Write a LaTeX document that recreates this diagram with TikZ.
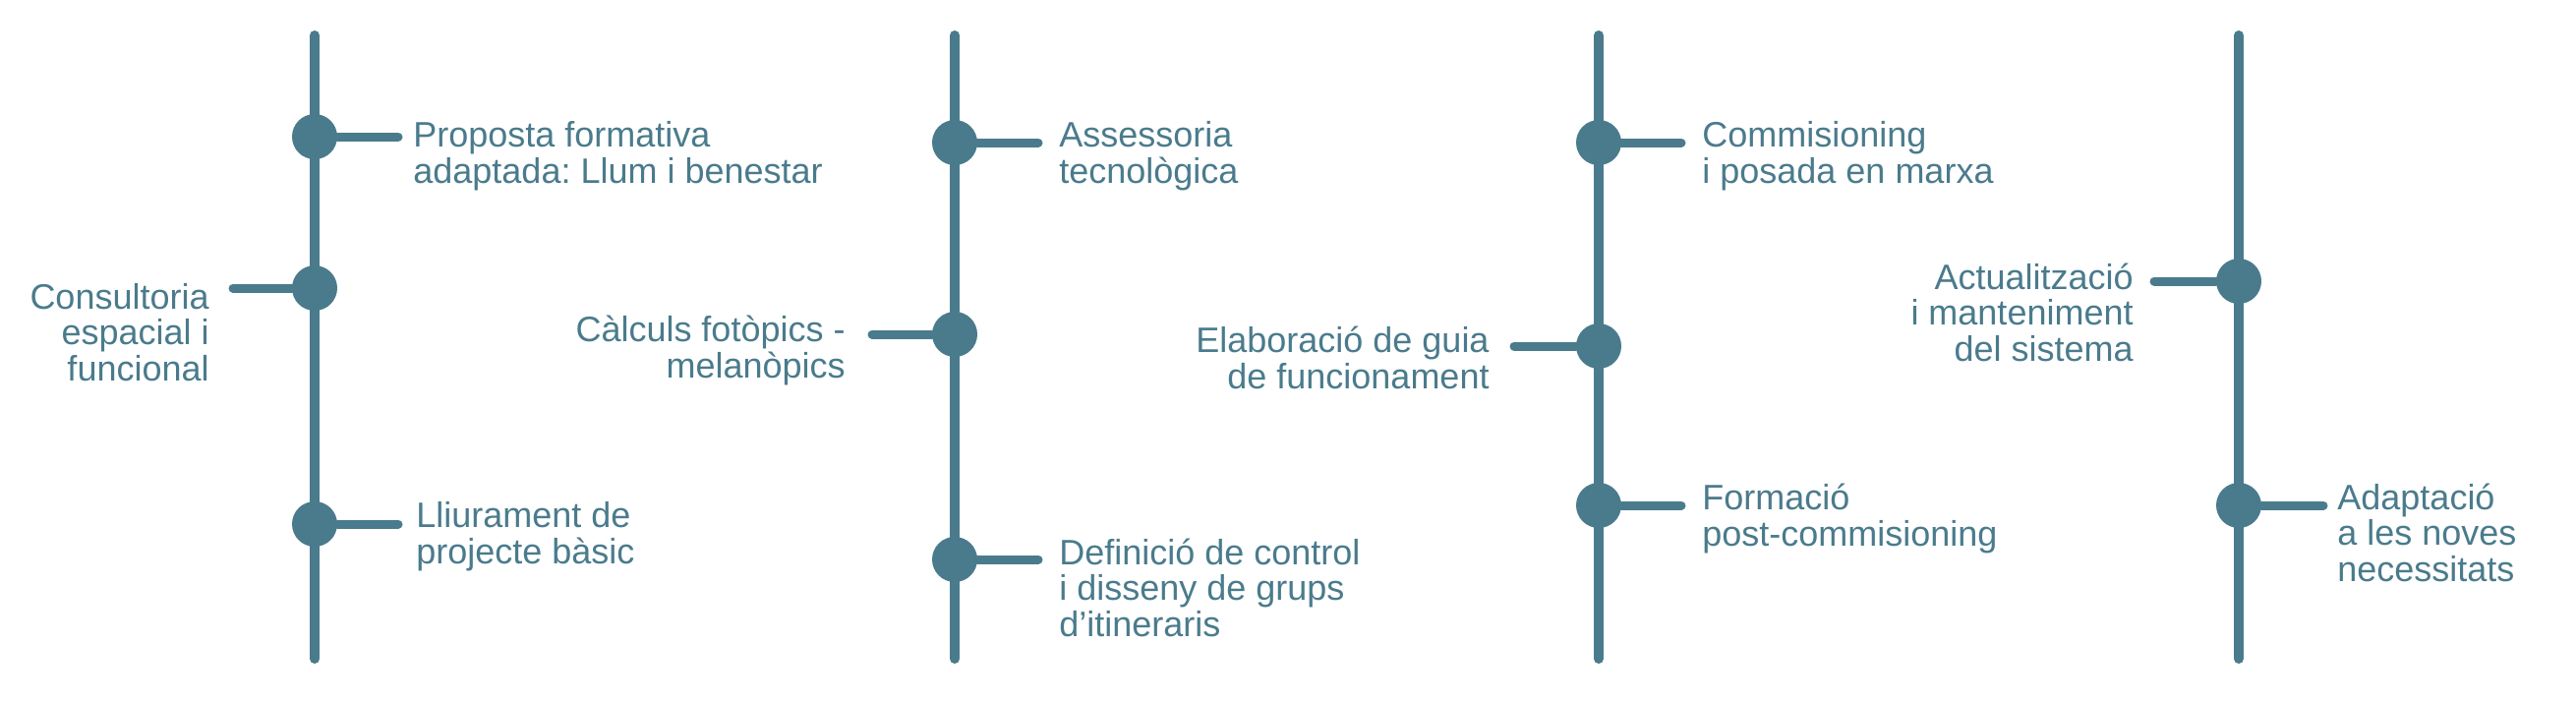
\documentclass[tikz,border=0pt]{standalone}
\usepackage{fontspec}
\setmainfont{Liberation Sans}
\usepackage{tikz}

\definecolor{tl}{HTML}{4A7B8C}
\frenchspacing

\begin{document}
\begin{tikzpicture}[x=0.5pt,y=-0.5pt,
	spine/.style={draw=tl,line width=5pt,line cap=round},
	stub/.style={draw=tl,line width=4.5pt,line cap=round},
	dot/.style={shape=circle,fill=tl,inner sep=0pt,minimum size=23pt},
	rtext/.style={anchor=base west,inner sep=0pt,align=left,text=tl,font=\fontsize{18}{18.25}\selectfont},
	ltext/.style={anchor=base east,inner sep=0pt,align=right,text=tl,font=\fontsize{18}{18.25}\selectfont}]
	\useasboundingbox (0,0) rectangle (2620,713);

	\coordinate (top1) at (320,36);   \coordinate (bot1) at (320,670);
	\coordinate (top2) at (971,36);   \coordinate (bot2) at (971,670);
	\coordinate (top3) at (1626,36);  \coordinate (bot3) at (1626,670);
	\coordinate (top4) at (2277,36);  \coordinate (bot4) at (2277,670);
	\path (top1) edge [spine] (bot1);
	\path (top2) edge [spine] (bot2);
	\path (top3) edge [spine] (bot3);
	\path (top4) edge [spine] (bot4);

	\draw (320,139) node (proposta) [dot] {};
	\draw (320,293) node (consult) [dot] {};
	\draw (320,533) node (lliura) [dot] {};
	\draw (971,145) node (assess) [dot] {};
	\draw (971,340) node (calcul) [dot] {};
	\draw (971,569) node (defin) [dot] {};
	\draw (1626,145) node (commis) [dot] {};
	\draw (1626,352) node (elabor) [dot] {};
	\draw (1626,514) node (formac) [dot] {};
	\draw (2277,286) node (actual) [dot] {};
	\draw (2277,514) node (adapta) [dot] {};

	\coordinate (proposta-e) at (405,139);
	\coordinate (consult-e) at (237,293);
	\coordinate (lliura-e) at (405,533);
	\coordinate (assess-e) at (1056,145);
	\coordinate (calcul-e) at (887,340);
	\coordinate (defin-e) at (1056,569);
	\coordinate (commis-e) at (1710,145);
	\coordinate (elabor-e) at (1540,352);
	\coordinate (formac-e) at (1710,514);
	\coordinate (actual-e) at (2191,286);
	\coordinate (adapta-e) at (2363,514);

	\path (proposta) edge [stub] (proposta-e);
	\path (consult) edge [stub] (consult-e);
	\path (lliura) edge [stub] (lliura-e);
	\path (assess) edge [stub] (assess-e);
	\path (calcul) edge [stub] (calcul-e);
	\path (defin) edge [stub] (defin-e);
	\path (commis) edge [stub] (commis-e);
	\path (elabor) edge [stub] (elabor-e);
	\path (formac) edge [stub] (formac-e);
	\path (actual) edge [stub] (actual-e);
	\path (adapta) edge [stub] (adapta-e);

	\node (proposta-t) [rtext] at (420,186) {Proposta formativa\\adaptada: Llum i benestar};
	\node (consult-t) [ltext] at (213,387) {Consultoria\\espacial i\\funcional};
	\node (lliura-t) [rtext] at (423,573) {Lliurament de\\projecte bàsic};
	\node (assess-t) [rtext] at (1077,186) {Assessoria\\tecnològica};
	\node (calcul-t) [ltext] at (860,384) {Càlculs fotòpics -\\melanòpics};
	\node (defin-t) [rtext] at (1077,647) {Definició de control\\i disseny de grups\\d’itineraris};
	\node (commis-t) [rtext] at (1731,186) {Commisioning\\i posada en marxa};
	\node (elabor-t) [ltext] at (1515,395) {Elaboració de guia\\de funcionament};
	\node (formac-t) [rtext] at (1731,555) {Formació\\post-commisioning};
	\node (actual-t) [ltext] at (2170,367) {Actualització\\i manteniment\\del sistema};
	\node (adapta-t) [rtext] at (2377,591) {Adaptació\\a les noves\\necessitats};
\end{tikzpicture}
\end{document}
